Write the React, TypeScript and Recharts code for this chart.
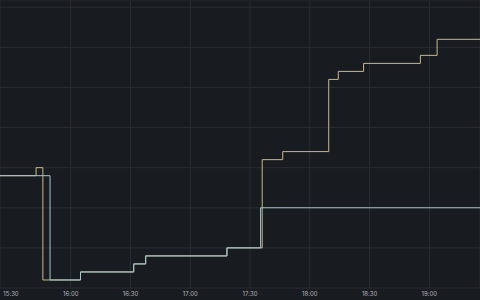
import { CartesianGrid, Line, LineChart, XAxis, YAxis } from 'recharts';

const toMin = (s: string) => {
  const [h, m, sec = '0'] = s.split(':');
  return +h * 60 + +m + +sec / 60;
};

const fmt = (v: number) => {
  const h = Math.floor(v / 60);
  const m = Math.round(v - h * 60);
  return `${h}:${m < 10 ? '0' + m : m}`;
};

// step series
const yellowTimes = [
  '15:24:29', '15:42:36', '15:46:00', '16:04:54', '16:31:36', '16:37:36', '17:18:24',
  '17:36:06', '17:46:24', '18:09:30', '18:14:18', '18:27:00', '18:55:30', '19:03:54', '19:25:26',
];
const yellowValues = [28, 30, 2, 4, 6, 8, 10, 32, 34, 52, 54, 56, 58, 62, 62];

const blueTimes = [
  '15:24:29', '15:49:36', '16:04:54', '16:31:36', '16:37:36', '17:18:24', '17:35:18', '19:25:26',
];
const blueValues = [28, 2, 4, 6, 8, 10, 20, 20];

const timeTicks = ['15:30', '16:00', '16:30', '17:00', '17:30', '18:00', '18:30', '19:00'];
const valueTicks = [0, 10, 20, 30, 40, 50, 60, 70];

const yellow = yellowTimes.map((t, i) => ({ t: toMin(t), v: yellowValues[i] }));
const blue = blueTimes.map((t, i) => ({ t: toMin(t), v: blueValues[i] }));

export default function App() {
  return (
    <div style={{ position: 'absolute', left: 0, top: 0, width: 480, height: 300, background: '#181b1f' }}>
      <LineChart width={480} height={300} margin={{ top: 0, right: 0, left: 0, bottom: 0 }}>
        <CartesianGrid stroke="#2a2d33" />
        <XAxis
          type="number"
          dataKey="t"
          domain={[toMin('15:24:29'), toMin('19:25:26')]}
          ticks={timeTicks.map(toMin)}
          tickFormatter={fmt}
          allowDataOverflow
          axisLine={false}
          tickLine={false}
          tickSize={0}
          tickMargin={4}
          height={12}
          tick={{ fill: '#b4b6bc', fontSize: 6, fontFamily: 'Inter' }}
        />
        <YAxis hide domain={[0, 71.8]} ticks={valueTicks} allowDataOverflow />
        <Line data={yellow} dataKey="v" type="stepAfter" stroke="#cbb98b" strokeWidth={1} dot={false} activeDot={false} isAnimationActive={false} />
        <Line data={blue} dataKey="v" type="stepAfter" stroke="#a3c8d0" strokeWidth={1} dot={false} activeDot={false} isAnimationActive={false} />
      </LineChart>
    </div>
  );
}
